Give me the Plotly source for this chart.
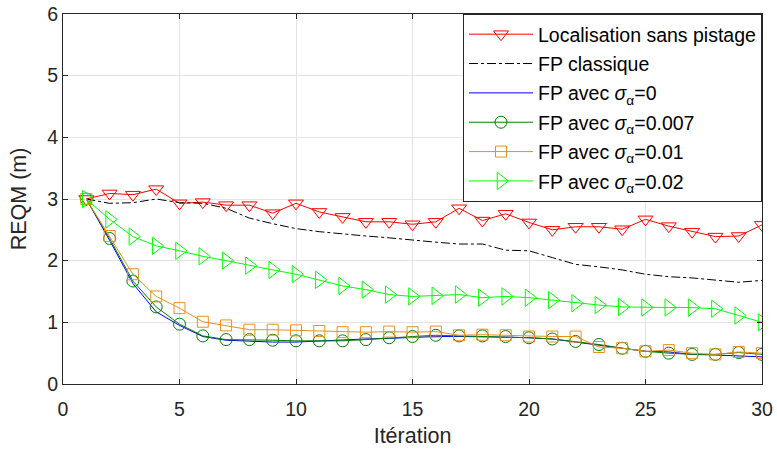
import plotly.graph_objects as go

# data
iterations = list(range(1, 31))
sans_pistage = [3.0, 3.09, 3.07, 3.16, 2.93, 2.95, 2.9, 2.9, 2.77, 2.93,
                2.79, 2.71, 2.63, 2.63, 2.59, 2.63, 2.85, 2.65, 2.76, 2.62,
                2.5, 2.55, 2.55, 2.51, 2.67, 2.56, 2.47, 2.39, 2.4, 2.58]
fp_classique = [3.0, 2.93, 2.94, 3.0, 2.94, 2.93, 2.85, 2.69, 2.6, 2.52,
                2.47, 2.43, 2.4, 2.37, 2.33, 2.3, 2.27, 2.27, 2.17, 2.16,
                2.05, 1.94, 1.9, 1.85, 1.78, 1.74, 1.72, 1.69, 1.65, 1.68]
fp_s0 = [3.0, 2.33, 1.63, 1.17, 0.95, 0.77, 0.71, 0.69, 0.68, 0.68,
         0.7, 0.71, 0.73, 0.74, 0.76, 0.77, 0.77, 0.77, 0.76, 0.75,
         0.73, 0.68, 0.63, 0.57, 0.53, 0.52, 0.48, 0.47, 0.46, 0.44]
fp_s0007 = [3.0, 2.36, 1.67, 1.25, 0.97, 0.78, 0.72, 0.72, 0.71, 0.7,
            0.7, 0.7, 0.72, 0.75, 0.77, 0.79, 0.78, 0.78, 0.77, 0.75,
            0.73, 0.69, 0.64, 0.58, 0.53, 0.5, 0.48, 0.48, 0.51, 0.48]
fp_s001 = [3.0, 2.4, 1.78, 1.42, 1.23, 1.01, 0.95, 0.88, 0.88, 0.87,
           0.86, 0.84, 0.84, 0.85, 0.84, 0.85, 0.79, 0.8, 0.79, 0.77,
           0.77, 0.77, 0.6, 0.58, 0.53, 0.55, 0.5, 0.48, 0.52, 0.5]
fp_s002 = [3.0, 2.67, 2.39, 2.24, 2.16, 2.07, 2.0, 1.92, 1.85, 1.78,
           1.69, 1.59, 1.53, 1.45, 1.42, 1.43, 1.45, 1.4, 1.42, 1.4,
           1.36, 1.31, 1.28, 1.25, 1.24, 1.24, 1.24, 1.22, 1.11, 1.0]

series = [
    ("Localisation sans pistage", sans_pistage, "#ff0000", "solid", "triangle-down-open", 13),
    ("FP classique", fp_classique, "#000000", "dashdot", None, 0),
    ("FP avec <i>σ</i><sub>α</sub>=0", fp_s0, "#0000ff", "solid", None, 0),
    ("FP avec <i>σ</i><sub>α</sub>=0.007", fp_s0007, "#008000", "solid", "circle-open", 12),
    ("FP avec <i>σ</i><sub>α</sub>=0.01", fp_s001, "#e8901e", "solid", "square-open", 11),
    ("FP avec <i>σ</i><sub>α</sub>=0.02", fp_s002, "#00ff00", "solid", "triangle-right-open", 15),
]

fig = go.Figure()
for i, (name, vals, color, dash, symbol, size) in enumerate(series):
    mode = "lines+markers" if symbol else "lines"
    fig.add_trace(go.Scatter(
        x=iterations, y=vals, name=name, mode=mode, legendgroup=str(i),
        line=dict(color=color, width=1, dash=dash),
        marker=dict(symbol=symbol or "circle", size=size, color=color,
                    line=dict(color=color, width=1)),
    ))

axis_common = dict(showline=True, linecolor="#262626", linewidth=1, mirror="ticks",
                   ticks="inside", ticklen=5, tickcolor="#262626",
                   showgrid=True, gridcolor="#e3e3e3", zeroline=False, automargin=False,
                   tickfont=dict(size=19.5, color="#262626"))

fig.update_layout(
    width=777, height=452,
    margin=dict(l=63, r=15, t=14, b=68),
    plot_bgcolor="white", paper_bgcolor="white",
    font=dict(family="Liberation Sans, Arial, sans-serif", color="#262626"),
    xaxis=dict(range=[0, 30], dtick=5, ticklabelstandoff=8,
               title=dict(text="Itération", font=dict(size=21.5), standoff=8),
               **axis_common),
    yaxis=dict(range=[0, 6], dtick=1,
               title=dict(text="REQM (m)", font=dict(size=21.5), standoff=14),
               **axis_common),
    legend=dict(x=1, xanchor="right", y=1, yanchor="top",
                bgcolor="white", bordercolor="#262626", borderwidth=1,
                font=dict(size=19.5, color="#000000"), itemwidth=64,
                traceorder="grouped", tracegroupgap=1),
    showlegend=True,
)

fig.write_html("out.html", config={"displayModeBar": False},
               post_script="document.body.style.margin='0';")
